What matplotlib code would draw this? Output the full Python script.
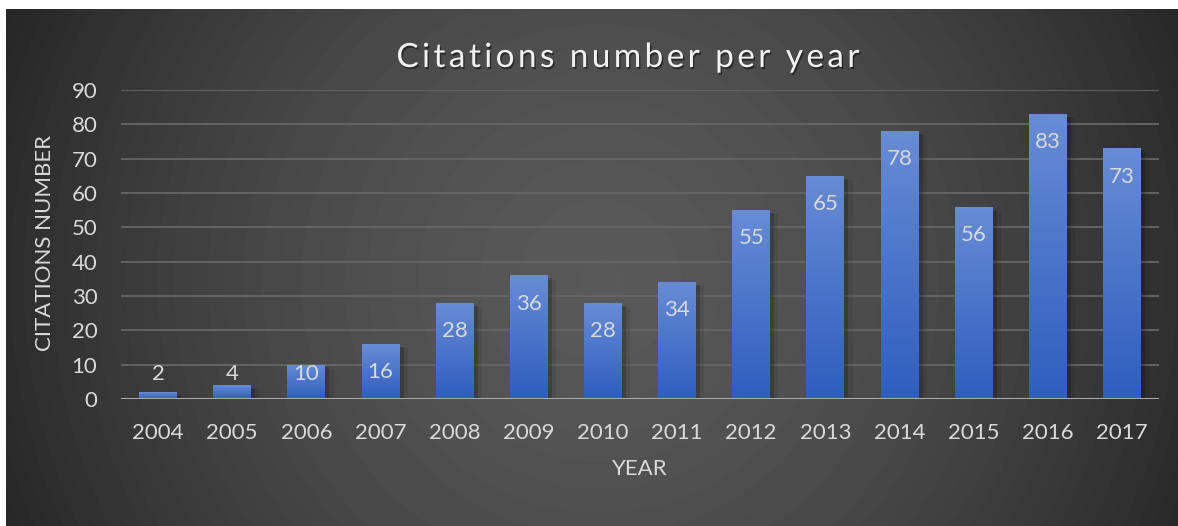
import numpy as np
import matplotlib
matplotlib.use("Agg")
import matplotlib.pyplot as plt
from matplotlib import patheffects as pe

# ---- data ----
years = ["2004", "2005", "2006", "2007", "2008", "2009", "2010",
         "2011", "2012", "2013", "2014", "2015", "2016", "2017"]
citations = [2, 4, 10, 16, 28, 36, 28, 34, 55, 65, 78, 56, 83, 73]
y_ticks = [0, 10, 20, 30, 40, 50, 60, 70, 80, 90]
chart_title = "Citations number per year"
x_title = "YEAR"
y_title = "CITATIONS NUMBER"

FONT = "Lato"
TEXT_COLOR = "#d9d9d9"
LABEL_SIZE = 16

W, H = 1178, 526
fig = plt.figure(figsize=(W / 100, H / 100), dpi=100)
fig.patch.set_facecolor("white")

# ---- dark radial-gradient backdrop with slight banding ----
yy, xx = np.mgrid[0:H, 0:W]
r = np.hypot(xx - 600.0, yy - 280.0) / 700.0
lum = 89.0 - 57.0 * np.clip(r, 0, 1.25) ** 1.6
lum = np.round(lum / 1.6) * 1.6
img = np.dstack([lum, lum, lum]) / 255.0
img[:9, :, :] = 1.0
img[:, :6, :] = 1.0
bg = fig.add_axes([0, 0, 1, 1], zorder=0)
bg.imshow(img, aspect="auto", interpolation="nearest")
bg.axis("off")

# ---- plot area ----
left, right, top, bottom = 121, 1159, 90, 399
ax = fig.add_axes([left / W, (H - bottom) / H, (right - left) / W, (bottom - top) / H],
                  zorder=1)
ax.patch.set_alpha(0)

x = np.arange(len(years))
bw = 0.51
bars = ax.bar(x, citations, width=bw, color="#4a78cc", zorder=2, linewidth=0)

top_rgb = np.array([104, 140, 214]) / 255.0
bot_rgb = np.array([46, 94, 190]) / 255.0
t = np.linspace(0, 1, 256)[:, None]
grad = (top_rgb[None, :] * (1 - t) + bot_rgb[None, :] * t)[:, None, :]

for xi, v, b in zip(x, citations, bars):
    b.set_path_effects([pe.SimplePatchShadow(offset=(3, -2), shadow_rgbFace="black",
                                             alpha=0.18),
                        pe.SimplePatchShadow(offset=(6, -3), shadow_rgbFace="black",
                                             alpha=0.08),
                        pe.Normal()])
    im = ax.imshow(grad, extent=[xi - bw / 2, xi + bw / 2, 0, v], aspect="auto",
                   origin="upper", zorder=3, interpolation="bilinear")
    im.set_clip_path(b)
    ax.text(xi, max(v - 8.2, 7.3), str(v), ha="center", va="center",
            color=TEXT_COLOR, fontsize=LABEL_SIZE, family=FONT, zorder=5)

ax.set_xlim(-0.5, len(years) - 0.5)
ax.set_ylim(0, 90)
ax.set_yticks(y_ticks)
ax.set_xticks(x)
ax.set_xticklabels(years)
ax.yaxis.grid(True, color=(0.40, 0.40, 0.40), linewidth=1.3)
ax.set_axisbelow(True)
for s in ax.spines.values():
    s.set_visible(False)
ax.axhline(0, color="#a8a8a8", linewidth=2.2, zorder=4)
ax.tick_params(length=0, colors=TEXT_COLOR, labelsize=LABEL_SIZE)
ax.tick_params(axis="y", pad=17)
ax.tick_params(axis="x", pad=17)
for lab in ax.get_xticklabels() + ax.get_yticklabels():
    lab.set_family(FONT)

# ---- axis titles ----
fig.text(45 / W, 1 - 243 / H, y_title, rotation=90, ha="center", va="center",
         color=TEXT_COLOR, fontsize=LABEL_SIZE, family=FONT)
fig.text(640 / W, 1 - 469 / H, x_title, ha="center", va="center",
         color=TEXT_COLOR, fontsize=LABEL_SIZE, family=FONT)

# ---- letter-spaced chart title ----
renderer = fig.canvas.get_renderer()
title_size = 24
tracking = 3.4  # extra pixels between characters


def text_width(s):
    tt = fig.text(0, 0, s, fontsize=title_size, family=FONT)
    w = tt.get_window_extent(renderer).width
    tt.remove()
    return w


base = text_width("||")
offsets = [text_width("|" + chart_title[:k] + "|") - base for k in range(len(chart_title) + 1)]
total = offsets[-1] + tracking * (len(chart_title) - 1)
x0 = 628 - total / 2
title_fx = [pe.SimplePatchShadow(offset=(1, -1.5), shadow_rgbFace="black", alpha=0.45),
            pe.Normal()]
for k, ch in enumerate(chart_title):
    if ch == " ":
        continue
    px = x0 + offsets[k] + tracking * k
    fig.text(px / W, 1 - 67 / H, ch, ha="left", va="baseline", fontsize=title_size,
             family=FONT, color="#f2f2f2", path_effects=title_fx)

fig.savefig("out.png", dpi=100, facecolor=fig.get_facecolor())
